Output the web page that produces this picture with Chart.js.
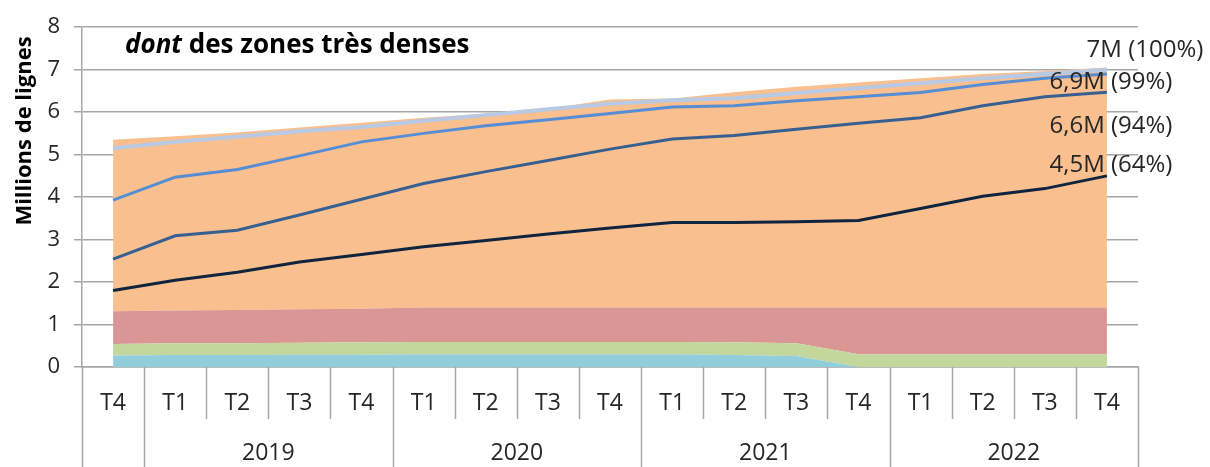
<!DOCTYPE html>
<html>
<head>
<meta charset="utf-8">
<script src="https://cdn.jsdelivr.net/npm/chart.js@4/dist/chart.umd.min.js"></script>
<style>
  html, body { margin: 0; padding: 0; background: #fff; }
  #wrap { width: 1210px; height: 467px; position: relative; }
</style>
</head>
<body>
<div id="wrap"><canvas id="chart"></canvas></div>
<script>
// quarters and the years they belong to
const quarters = ['T4', 'T1', 'T2', 'T3', 'T4', 'T1', 'T2', 'T3', 'T4', 'T1', 'T2', 'T3', 'T4', 'T1', 'T2', 'T3', 'T4']
const years = ['', '2019', '2020', '2021', '2022']
const yearSizes = [1, 4, 4, 4, 4]

// stacked areas (millions of lines)
const blueArea = [0.27, 0.28, 0.28, 0.29, 0.29, 0.30, 0.30, 0.30, 0.30, 0.30, 0.28, 0.26, 0, 0, 0, 0, 0]
const greenArea = [0.27, 0.28, 0.28, 0.28, 0.29, 0.29, 0.29, 0.29, 0.29, 0.29, 0.30, 0.30, 0.30, 0.30, 0.30, 0.30, 0.30]
const redArea = [0.77, 0.77, 0.78, 0.79, 0.79, 0.81, 0.81, 0.81, 0.81, 0.81, 0.82, 0.84, 1.10, 1.10, 1.10, 1.10, 1.10]
const orangeArea = [4.04, 4.10, 4.18, 4.28, 4.38, 4.47, 4.57, 4.68, 4.90, 4.92, 5.07, 5.20, 5.30, 5.40, 5.50, 5.57, 5.65]

// lines
const greyLine = [5.15, 5.30, 5.42, 5.55, 5.65, 5.80, 5.93, 6.07, 6.20, 6.28, 6.33, 6.45, 6.57, 6.68, 6.80, 6.90, 7.00]
const lightBlueLine = [3.93, 4.47, 4.65, 4.97, 5.30, 5.50, 5.68, 5.82, 5.97, 6.12, 6.15, 6.27, 6.36, 6.46, 6.65, 6.80, 6.90]
const darkBlueLine = [2.54, 3.09, 3.22, 3.58, 3.95, 4.32, 4.60, 4.86, 5.13, 5.37, 5.45, 5.60, 5.74, 5.87, 6.15, 6.36, 6.47]
const blackLine = [1.80, 2.04, 2.23, 2.47, 2.65, 2.83, 2.98, 3.13, 3.27, 3.40, 3.40, 3.42, 3.45, 3.73, 4.02, 4.20, 4.50]

const endLabels = ['7M (100%)', '6,9M (99%)', '6,6M (94%)', '4,5M (64%)']

const FONT = '"Open Sans", Lato, sans-serif'
const TEXT = '#262626'
const GRID = '#a6a6a6'

const area = (data, color, fill) => ({
  type: 'line',
  data,
  stack: 'areas',
  fill,
  backgroundColor: color,
  borderWidth: 0,
  pointRadius: 0,
  order: 2
})

const line = (data, color, key, width = 3) => ({
  type: 'line',
  data,
  stack: key,
  fill: false,
  borderColor: color,
  borderWidth: width,
  pointRadius: 0,
  tension: 0,
  order: 1
})

const decorations = {
  id: 'decorations',
  afterDraw(chart) {
    const { ctx, scales } = chart
    const x = scales.x
    const y = scales.y
    const half = (x.getPixelForValue(1) - x.getPixelForValue(0)) / 2
    const bottom = y.bottom
    ctx.save()

    // quarter / year separators under the axis
    ctx.strokeStyle = GRID
    ctx.lineWidth = 1.5
    const yearStarts = [0]
    yearSizes.forEach(n => yearStarts.push(yearStarts[yearStarts.length - 1] + n))
    for (let i = 0; i <= quarters.length; i++) {
      const bx = Math.round(x.getPixelForValue(0) - half + i * 2 * half) + 0.5
      const full = yearStarts.includes(i)
      ctx.beginPath()
      ctx.moveTo(bx, bottom)
      ctx.lineTo(bx, full ? chart.height : bottom + 52)
      ctx.stroke()
    }

    // year labels
    ctx.fillStyle = TEXT
    ctx.font = '23px ' + FONT
    ctx.textAlign = 'center'
    ctx.textBaseline = 'middle'
    years.forEach((label, k) => {
      if (!label) return
      const a = x.getPixelForValue(yearStarts[k])
      const b = x.getPixelForValue(yearStarts[k + 1] - 1)
      ctx.fillText(label, (a + b) / 2, bottom + 86)
    })

    // y axis title
    ctx.save()
    ctx.translate(25, 131)
    ctx.rotate(-Math.PI / 2)
    ctx.font = 'bold 22px ' + FONT
    ctx.fillStyle = '#000'
    ctx.fillText('Millions de lignes', 0, 0)
    ctx.restore()

    // inner title
    ctx.textAlign = 'left'
    ctx.textBaseline = 'alphabetic'
    ctx.fillStyle = '#000'
    ctx.font = 'italic bold 26px ' + FONT
    ctx.fillText('dont', 125, 53)
    const w = ctx.measureText('dont').width
    ctx.font = 'bold 26px ' + FONT
    ctx.fillText(' des zones très denses', 125 + w, 53)

    // end-of-series labels
    const last = quarters.length - 1
    const lx = x.getPixelForValue(last)
    const ends = [greyLine, lightBlueLine, darkBlueLine, blackLine]
    const dx = [38, 4, 4, 4]
    const dy = [-20, 8, 34, -11]
    ctx.font = '24px ' + FONT
    ctx.fillStyle = TEXT
    ctx.textAlign = 'center'
    ctx.textBaseline = 'middle'
    endLabels.forEach((t, i) => {
      ctx.fillText(t, lx + dx[i], y.getPixelForValue(ends[i][last]) + dy[i])
    })
    ctx.restore()
  }
}

new Chart(document.getElementById('chart'), {
  type: 'line',
  data: {
    labels: quarters,
    datasets: [
      area(blueArea, '#92cddc', 'origin'),
      area(greenArea, '#c3d69b', '-1'),
      area(redArea, '#d99694', '-1'),
      area(orangeArea, '#f9bf8f', '-1'),
      line(greyLine, '#b7c9e3', 'l1', 4),
      line(lightBlueLine, '#558ed5', 'l2'),
      line(darkBlueLine, '#376092', 'l3'),
      line(blackLine, '#0f243e', 'l4')
    ]
  },
  options: {
    responsive: true,
    maintainAspectRatio: false,
    animation: false,
    layout: { padding: { left: 0, right: 72, top: 24, bottom: 0 } },
    plugins: {
      legend: { display: false },
      tooltip: { enabled: false }
    },
    scales: {
      x: {
        offset: true,
        grid: { display: false },
        border: { display: true, color: GRID, width: 1.5 },
        ticks: {
          color: TEXT,
          padding: 15,
          maxRotation: 0,
          autoSkip: false,
          font: { family: FONT, size: 23 }
        },
        afterFit: scale => { scale.height = 100 }
      },
      y: {
        stacked: true,
        min: 0,
        max: 8,
        ticks: {
          stepSize: 1,
          color: TEXT,
          padding: 14,
          font: { family: FONT, size: 22 }
        },
        grid: { color: GRID, lineWidth: 1.5, tickLength: 8 },
        border: { display: true, color: GRID, width: 1.5 },
        afterFit: scale => { scale.width = 82 }
      }
    }
  },
  plugins: [decorations]
})
</script>
</body>
</html>
